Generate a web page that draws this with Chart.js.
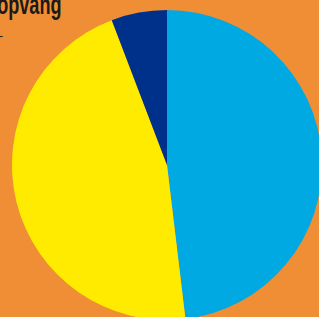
<!DOCTYPE html>
<html>
<head>
<meta charset="utf-8">
<script src="https://cdn.jsdelivr.net/npm/chart.js@4.4.1/dist/chart.umd.min.js"></script>
<style>
  html, body { margin: 0; padding: 0; }
  body {
    width: 319px; height: 317px; overflow: hidden; position: relative;
    background: #F08E35;
  }
  .title {
    position: absolute; right: 257px; top: -10px; white-space: nowrap;
    font: bold 27px "Liberation Sans", sans-serif;
    color: #1a1a1a;
    transform: scaleX(0.67); transform-origin: right center;
  }
  .sub {
    position: absolute; right: 316px; top: 28px; white-space: nowrap;
    font: 13px "Liberation Sans", sans-serif; color: #1a1a1a;
  }
  #wrap { position: absolute; left: 12px; top: 10px; width: 310px; height: 310px; }
</style>
</head>
<body>
<div class="title">Kinderopvang</div>
<div class="sub">in % -</div>
<div id="wrap"><canvas id="pie"></canvas></div>
<script>
const labels = ['Dagopvang', 'Buitenschoolse opvang', 'Gastouderopvang'];
const shares = [48.1, 46.1, 5.8];
const colors = ['#00A9E2', '#FFEB00', '#00318A'];

new Chart(document.getElementById('pie'), {
    type: 'pie',
    data: {
        labels: labels,
        datasets: [{
            data: shares,
            backgroundColor: colors,
            borderWidth: 0,
        }],
    },
    options: {
        responsive: true,
        maintainAspectRatio: false,
        animation: false,
        layout: { padding: 0 },
        plugins: {
            legend: { display: false },
            tooltip: { enabled: false },
        },
    },
});
</script>
</body>
</html>
